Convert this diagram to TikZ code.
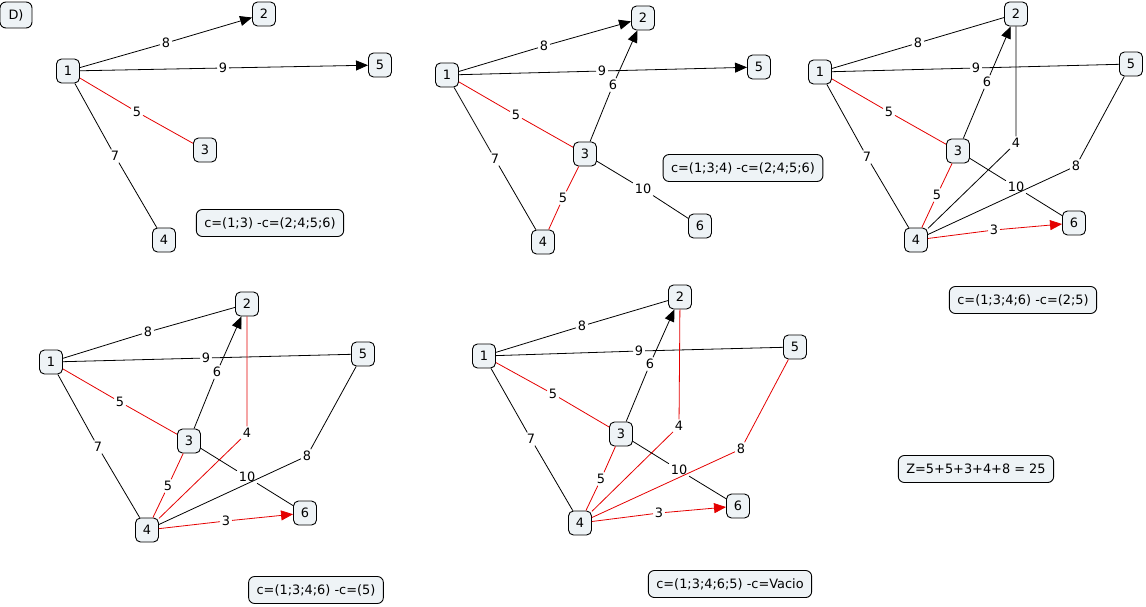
\documentclass[tikz,border=0pt]{standalone}
\usepackage{fontspec}
\setmainfont{DejaVu Sans}
\usetikzlibrary{arrows.meta}
\definecolor{boxfill}{RGB}{238,243,246}
\definecolor{hitred}{RGB}{228,0,0}
\begin{document}
\begin{tikzpicture}[x=1pt,y=-1pt,line width=0.8pt,
  font=\fontsize{12.9}{15}\selectfont,
  >={Triangle[length=12pt,width=10pt]},
  vx/.style={draw,line width=0.9pt,fill=boxfill,rounded corners=5pt,minimum width=23pt,minimum height=24pt,inner sep=0pt},
  note/.style={draw,line width=0.9pt,fill=boxfill,rounded corners=6pt,minimum height=27pt,inner xsep=8pt,inner ysep=0pt},
  w/.style={fill=white,inner sep=1.5pt},
  hit/.style={hitred}]
\useasboundingbox (0,0) rectangle (1146,606);

\node[note,minimum width=32pt,minimum height=26pt,inner xsep=0pt](tag) at (16,15) {D)};

% first step
\node[vx](a1) at (68,71) {1};
\node[vx](a2) at (264,14) {2};
\node[vx](a5) at (380,65) {5};
\node[vx](a3) at (205,150) {3};
\node[vx](a4) at (164,240) {4};

\node[w](a12) at (166,43) {8};
\node[w](a15) at (223,68) {9};
\node[w](a13) at (137,112) {5};
\node[w](a14) at (115,156) {7};

\draw[->] (a1) -- (a12) -- (a2);
\draw[->] (a1) -- (a15) -- (a5);
\draw[hit] (a1) -- (a13) -- (a3);
\draw (a1) -- (a14) -- (a4);

\node[note](na) at (270,223) {c=(1;3) -c=(2;4;5;6)};

% second step
\node[vx](b1) at (447,75) {1};
\node[vx](b2) at (643,18) {2};
\node[vx](b5) at (759,67) {5};
\node[vx](b3) at (585,154) {3};
\node[vx](b6) at (700,226) {6};
\node[vx](b4) at (543,242) {4};

\node[w](b12) at (544,46) {8};
\node[w](b15) at (602,71) {9};
\node[w](b13) at (516,115) {5};
\node[w](b32) at (613,85) {6};
\node[w](b14) at (495,159) {7};
\node[w](b34) at (563,198) {5};
\node[w](b36) at (643,189) {10};

\draw[->] (b1) -- (b12) -- (b2);
\draw[->] (b1) -- (b15) -- (b5);
\draw[hit] (b1) -- (b13) -- (b3);
\draw (b1) -- (b14) -- (b4);
\draw[->] (b3) -- (b32) -- (b2);
\draw[hit] (b3) -- (b34) -- (b4);
\draw (b3) -- (b36) -- (b6);

\node[note](nb) at (743,168) {c=(1;3;4) -c=(2;4;5;6)};

% third step
\node[vx](c1) at (820,72) {1};
\node[vx](c2) at (1016,14) {2};
\node[vx](c5) at (1131,64) {5};
\node[vx](c3) at (958,151) {3};
\node[vx](c6) at (1074,223) {6};
\node[vx](c4) at (916,240) {4};

\node[w](c12) at (918,43) {8};
\node[w](c15) at (976,68) {9};
\node[w](c13) at (889,112) {5};
\node[w](c32) at (987,82) {6};
\node[w](c14) at (867,157) {7};
\node[w](c24) at (1016,143) {4};
\node[w](c34) at (937,195) {5};
\node[w](c36) at (1016,187) {10};
\node[w](c54) at (1076,166) {8};
\node[w](c46) at (994,230) {3};

\draw (c1) -- (c12) -- (c2);
\draw (c1) -- (c15) -- (c5);
\draw[hit] (c1) -- (c13) -- (c3);
\draw (c1) -- (c14) -- (c4);
\draw[->] (c3) -- (c32) -- (c2);
\draw (c2) -- (c24) -- (c4);
\draw[hit] (c3) -- (c34) -- (c4);
\draw (c3) -- (c36) -- (c6);
\draw (c5) -- (c54) -- (c4);
\draw[hit,->] (c4) -- (c46) -- (c6);

\node[note](nc) at (1023,300) {c=(1;3;4;6) -c=(2;5)};

% fourth step
\node[vx](d1) at (51,362) {1};
\node[vx](d2) at (247,304) {2};
\node[vx](d5) at (363,354) {5};
\node[vx](d3) at (189,441) {3};
\node[vx](d6) at (305,513) {6};
\node[vx](d4) at (147,530) {4};

\node[w](d12) at (148,332) {8};
\node[w](d15) at (206,358) {9};
\node[w](d13) at (120,402) {5};
\node[w](d32) at (217,372) {6};
\node[w](d14) at (98,447) {7};
\node[w](d24) at (247,433) {4};
\node[w](d34) at (168,486) {5};
\node[w](d36) at (247,477) {10};
\node[w](d54) at (307,456) {8};
\node[w](d46) at (226,521) {3};

\draw (d1) -- (d12) -- (d2);
\draw (d1) -- (d15) -- (d5);
\draw[hit] (d1) -- (d13) -- (d3);
\draw (d1) -- (d14) -- (d4);
\draw[->] (d3) -- (d32) -- (d2);
\draw[hit] (d2) -- (d24) -- (d4);
\draw[hit] (d3) -- (d34) -- (d4);
\draw (d3) -- (d36) -- (d6);
\draw (d5) -- (d54) -- (d4);
\draw[hit,->] (d4) -- (d46) -- (d6);

\node[note](nd) at (316,590) {c=(1;3;4;6) -c=(5)};

% last step
\node[vx](e1) at (484,356) {1};
\node[vx](e2) at (680,297) {2};
\node[vx](e5) at (795,347) {5};
\node[vx](e3) at (621,434) {3};
\node[vx](e6) at (738,506) {6};
\node[vx](e4) at (580,523) {4};

\node[w](e12) at (582,326) {8};
\node[w](e15) at (639,351) {9};
\node[w](e13) at (553,394) {5};
\node[w](e32) at (650,364) {6};
\node[w](e14) at (531,439) {7};
\node[w](e24) at (679,426) {4};
\node[w](e34) at (601,479) {5};
\node[w](e36) at (679,470) {10};
\node[w](e54) at (741,449) {8};
\node[w](e46) at (659,513) {3};

\draw (e1) -- (e12) -- (e2);
\draw (e1) -- (e15) -- (e5);
\draw[hit] (e1) -- (e13) -- (e3);
\draw (e1) -- (e14) -- (e4);
\draw[->] (e3) -- (e32) -- (e2);
\draw[hit] (e2) -- (e24) -- (e4);
\draw[hit] (e3) -- (e34) -- (e4);
\draw (e3) -- (e36) -- (e6);
\draw[hit] (e5) -- (e54) -- (e4);
\draw[hit,->] (e4) -- (e46) -- (e6);

\node[note](ne) at (730,584) {c=(1;3;4;6;5) -c=Vacio};

\node[note](z) at (976,469) {Z=5+5+3+4+8 = 25};

\end{tikzpicture}
\end{document}
